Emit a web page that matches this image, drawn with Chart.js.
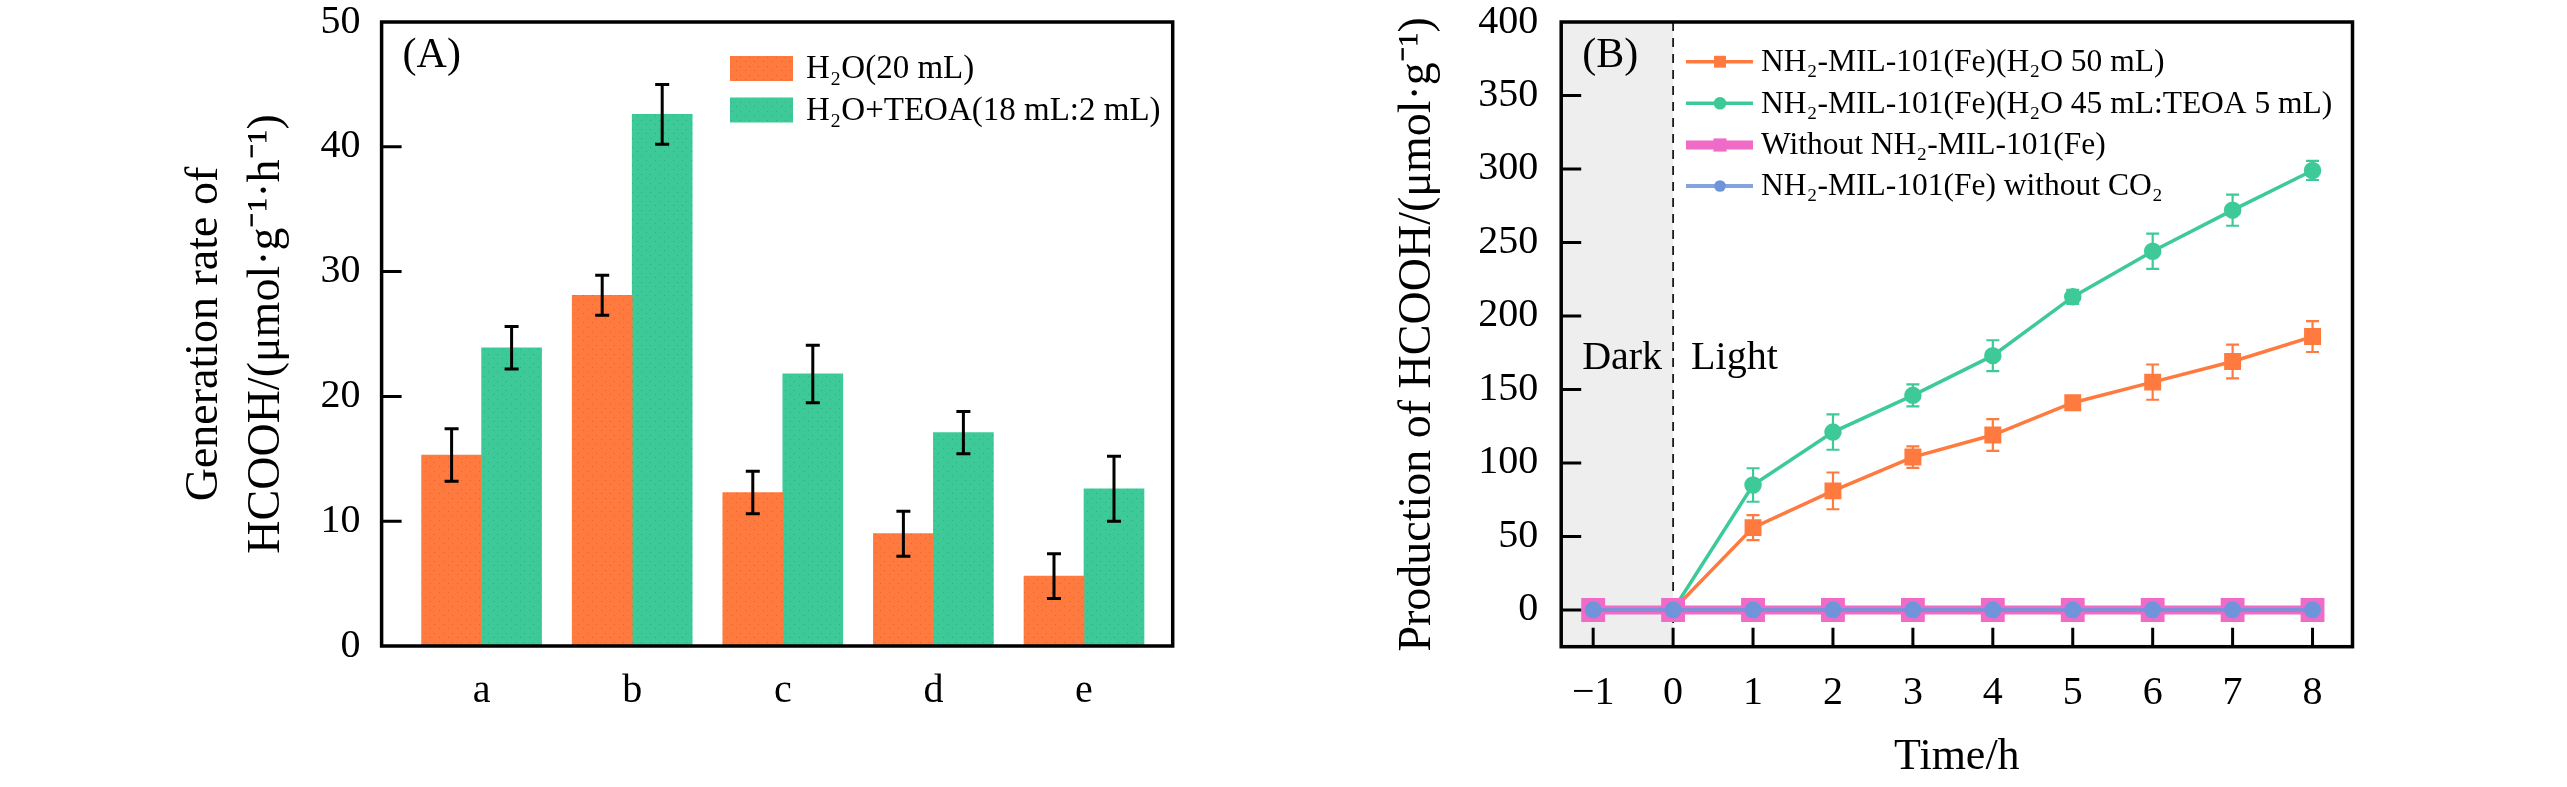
<!DOCTYPE html>
<html>
<head>
<meta charset="utf-8">
<script src="https://cdn.jsdelivr.net/npm/chart.js@4.4.1/dist/chart.umd.min.js"></script>
<style>
  html, body { margin: 0; padding: 0; background: #fff; }
  #wrap { position: relative; width: 2567px; height: 787px; overflow: hidden; }
  .panel { position: absolute; top: 0; height: 787px; }
  #pa { left: 0; width: 1283px; }
  #pb { left: 1283px; width: 1284px; }
</style>
</head>
<body>
<div id="wrap">
  <div class="panel" id="pa"><canvas id="chartA"></canvas></div>
  <div class="panel" id="pb"><canvas id="chartB"></canvas></div>
</div>
<script>
const FONT = '"Liberation Serif", "Times New Roman", serif';

// (A) generation rate per sample
const samples = ['a', 'b', 'c', 'd', 'e'];
const rateH2O = [15.3, 28.1, 12.3, 9.0, 5.6];
const errH2O = [2.1, 1.6, 1.7, 1.8, 1.8];
const rateTEOA = [23.9, 42.6, 21.8, 17.1, 12.6];
const errTEOA = [1.7, 2.4, 2.3, 1.7, 2.6];

// (B) production vs time
const hours = [-1, 0, 1, 2, 3, 4, 5, 6, 7, 8];
const prodH2O = [0, 0, 56, 81, 104, 119, 141, 155, 169, 186];
const sdH2O = [0, 0, 8.5, 12.5, 7.3, 10.8, 4, 12, 11.5, 10.5];
const prodTEOA = [0, 0, 85, 121, 146, 173, 213, 244, 272, 299];
const sdTEOA = [0, 0, 11.4, 12, 7.5, 10.5, 4.8, 12, 10.6, 6.5];
const prodNoCat = [0, 0, 0, 0, 0, 0, 0, 0, 0, 0];
const prodNoCO2 = [0, 0, 0, 0, 0, 0, 0, 0, 0, 0];

const ORANGE = '#FF7A3E';
const GREEN = '#3ECA98';
const PINK = '#F06AC8';
const BLUE = '#6F94DA';

function dotted(base, dot) {
  const c = document.createElement('canvas');
  c.width = 9; c.height = 9;
  const g = c.getContext('2d');
  g.fillStyle = base; g.fillRect(0, 0, 9, 9);
  g.fillStyle = dot;
  g.fillRect(2, 3, 1, 1); g.fillRect(7, 7, 1, 1);
  return g.createPattern(c, 'repeat');
}

// frame box + inward ticks
const frame = {
  id: 'frame',
  afterDraw(chart, args, o) {
    const { ctx, chartArea: a, scales } = chart;
    ctx.save();
    ctx.strokeStyle = '#000';
    ctx.lineWidth = 3;
    ctx.beginPath();
    if (o.yTicks) scales.y.ticks.forEach(t => {
      const p = scales.y.getPixelForValue(t.value);
      if (p > a.top + 3 && p < a.bottom - 3) { ctx.moveTo(a.left, p); ctx.lineTo(a.left + 20, p); }
    });
    if (o.xTicks) scales.x.ticks.forEach(t => {
      const p = scales.x.getPixelForValue(t.value);
      if (p > a.left + 3 && p < a.right - 3) { ctx.moveTo(p, a.bottom); ctx.lineTo(p, a.bottom - 19); }
    });
    ctx.stroke();
    ctx.lineWidth = 3.5;
    ctx.strokeRect(a.left, a.top, a.right - a.left, a.bottom - a.top);
    ctx.restore();
  }
};

// error bars from dataset.errors
const errorBars = {
  id: 'errorBars',
  afterDatasetsDraw(chart, args, o) {
    const { ctx } = chart;
    const y = chart.scales.y;
    chart.data.datasets.forEach((ds, di) => {
      if (!ds.errors) return;
      const meta = chart.getDatasetMeta(di);
      ctx.save();
      ctx.strokeStyle = o.color || ds.borderColor;
      ctx.lineWidth = o.width;
      meta.data.forEach((el, i) => {
        const e = ds.errors[i];
        if (!e) return;
        const v = ds.data[i].y;
        const top = y.getPixelForValue(v + e), bot = y.getPixelForValue(v - e);
        const c = o.cap / 2;
        ctx.beginPath();
        ctx.moveTo(el.x, top); ctx.lineTo(el.x, bot);
        ctx.moveTo(el.x - c, top); ctx.lineTo(el.x + c, top);
        ctx.moveTo(el.x - c, bot); ctx.lineTo(el.x + c, bot);
        ctx.stroke();
      });
      ctx.restore();
    });
  }
};

// custom legend at fixed spot inside the frame
const boxLegend = {
  id: 'boxLegend',
  afterDraw(chart, args, o) {
    const { ctx } = chart;
    ctx.save();
    ctx.font = o.size + 'px ' + FONT;
    ctx.textBaseline = 'middle';
    chart.data.datasets.forEach((ds, i) => {
      const cy = o.rows[i];
      if (o.kind === 'box') {
        ctx.fillStyle = ds.backgroundColor;
        ctx.fillRect(o.x, cy - 12.5, 63, 25);
      } else {
        ctx.strokeStyle = ds.borderColor;
        ctx.lineWidth = ds.borderWidth;
        ctx.beginPath(); ctx.moveTo(o.x, cy); ctx.lineTo(o.x + 67, cy); ctx.stroke();
        ctx.fillStyle = ds.pointBackgroundColor;
        const mx = o.x + 34;
        if (ds.pointStyle === 'rect') {
          const s = ds.pointRadius * 1.25;
          ctx.fillRect(mx - s / 2, cy - s / 2, s, s);
        } else {
          ctx.beginPath(); ctx.arc(mx, cy, ds.pointRadius * 0.9, 0, Math.PI * 2); ctx.fill();
        }
      }
      ctx.fillStyle = '#000';
      ctx.fillText(ds.label, o.textX, cy + 1);
    });
    ctx.restore();
  }
};

const panelTag = {
  id: 'panelTag',
  afterDraw(chart, args, o) {
    const { ctx, chartArea: a } = chart;
    ctx.save();
    ctx.font = '42px ' + FONT;
    ctx.fillStyle = '#000';
    ctx.textBaseline = 'middle';
    ctx.fillText(o.text, a.left + 21, a.top + 34);
    ctx.restore();
  }
};

// dark period shading and light/dark labels
const darkZone = {
  id: 'darkZone',
  beforeDatasetsDraw(chart) {
    const { ctx, chartArea: a, scales: { x, y } } = chart;
    const x0 = x.getPixelForValue(0);
    ctx.save();
    ctx.fillStyle = '#EEEEEE';
    ctx.fillRect(a.left, a.top, x0 - a.left, a.bottom - a.top);
    ctx.strokeStyle = '#000';
    ctx.lineWidth = 1.6;
    ctx.setLineDash([9, 7]);
    ctx.beginPath(); ctx.moveTo(x0, a.top); ctx.lineTo(x0, a.bottom); ctx.stroke();
    ctx.setLineDash([]);
    ctx.font = '40px ' + FONT;
    ctx.fillStyle = '#000';
    ctx.textBaseline = 'middle';
    const ty = y.getPixelForValue(171);
    ctx.textAlign = 'right';
    ctx.fillText('Dark', x0 - 11, ty);
    ctx.textAlign = 'left';
    ctx.fillText('Light', x0 + 18, ty);
    ctx.restore();
  }
};

const tickFont = { family: FONT, size: 40, lineHeight: 1 };

// keep the scale from pushing the plot area down for its end labels
function fixY(width) {
  return s => { s.width = width; s.paddingTop = 0; s.paddingBottom = 0; };
}

new Chart(document.getElementById('chartA'), {
  type: 'bar',
  data: {
    datasets: [
      {
        label: 'H\u2082O(20 mL)',
        data: rateH2O.map((v, i) => ({ x: i + 1, y: v })),
        errors: errH2O,
        backgroundColor: dotted(ORANGE, '#E8612A')
      },
      {
        label: 'H\u2082O+TEOA(18 mL:2 mL)',
        data: rateTEOA.map((v, i) => ({ x: i + 1, y: v })),
        errors: errTEOA,
        backgroundColor: dotted(GREEN, '#2EAE80')
      }
    ]
  },
  options: {
    responsive: true,
    maintainAspectRatio: false,
    animation: false,
    barThickness: 60,
    layout: { padding: { left: 0, top: 22, right: 110.3, bottom: 0 } },
    scales: {
      x: {
        type: 'linear',
        min: 0.336, max: 5.589,
        offset: false,
        grid: { display: false, drawTicks: false, offset: false },
        border: { display: false },
        ticks: {
          stepSize: 1, includeBounds: false, padding: 25,
          font: tickFont, color: '#000',
          callback: v => samples[v - 1]
        },
        afterFit: s => { s.height = 141; }
      },
      y: {
        min: 0, max: 50,
        grid: { display: false, drawTicks: false },
        border: { display: false },
        ticks: { stepSize: 10, padding: 21, font: tickFont, color: '#000' },
        title: {
          display: true,
          text: ['Generation rate of', 'HCOOH/(\u03bcmol\u00b7g\u207b\u00b9\u00b7h\u207b\u00b9)'],
          font: { family: FONT, size: 46, lineHeight: 62 / 46 },
          color: '#000',
          padding: { top: 174, bottom: 0 }
        },
        afterFit: fixY(381.6)
      }
    },
    plugins: {
      legend: { display: false },
      tooltip: { enabled: false },
      frame: { yTicks: true, xTicks: false },
      errorBars: { color: '#000', width: 3, cap: 14 },
      boxLegend: { kind: 'box', x: 730, textX: 806, rows: [68.5, 110], size: 33 },
      panelTag: { text: '(A)' }
    }
  },
  plugins: [errorBars, frame, boxLegend, panelTag]
});

new Chart(document.getElementById('chartB'), {
  type: 'line',
  data: {
    datasets: [
      {
        label: 'NH\u2082-MIL-101(Fe)(H\u2082O 50 mL)',
        data: hours.map((h, i) => ({ x: h, y: prodH2O[i] })),
        errors: sdH2O,
        borderColor: ORANGE, backgroundColor: ORANGE,
        pointBackgroundColor: ORANGE, pointBorderColor: ORANGE,
        borderWidth: 3.5, pointStyle: 'rect', pointRadius: 9.5,
        order: 3
      },
      {
        label: 'NH\u2082-MIL-101(Fe)(H\u2082O 45 mL:TEOA 5 mL)',
        data: hours.map((h, i) => ({ x: h, y: prodTEOA[i] })),
        errors: sdTEOA,
        borderColor: GREEN, backgroundColor: GREEN,
        pointBackgroundColor: GREEN, pointBorderColor: GREEN,
        borderWidth: 3.5, pointStyle: 'circle', pointRadius: 7,
        order: 2
      },
      {
        label: 'Without NH\u2082-MIL-101(Fe)',
        data: hours.map((h, i) => ({ x: h, y: prodNoCat[i] })),
        borderColor: PINK, backgroundColor: PINK,
        pointBackgroundColor: PINK, pointBorderColor: PINK,
        borderWidth: 9, pointStyle: 'rect', pointRadius: 10.5,
        order: 1
      },
      {
        label: 'NH\u2082-MIL-101(Fe) without CO\u2082',
        data: hours.map((h, i) => ({ x: h, y: prodNoCO2[i] })),
        borderColor: 'rgba(111,148,218,0.85)', backgroundColor: BLUE,
        pointBackgroundColor: BLUE, pointBorderColor: BLUE,
        borderWidth: 4, pointStyle: 'circle', pointRadius: 6.5,
        order: 0
      }
    ]
  },
  options: {
    responsive: true,
    maintainAspectRatio: false,
    animation: false,
    layout: { padding: { left: 0, top: 22, right: 214.5, bottom: 0 } },
    scales: {
      x: {
        type: 'linear',
        min: -1.4, max: 8.5,
        grid: { display: false, drawTicks: false },
        border: { display: false },
        ticks: {
          stepSize: 1, includeBounds: false, padding: 27,
          font: tickFont, color: '#000',
          callback: v => String(v).replace('-', '\u2212')
        },
        title: {
          display: true, text: 'Time/h', color: '#000',
          font: { family: FONT, size: 44, lineHeight: 1.2 },
          padding: { top: 0, bottom: 3 }
        },
        afterFit: s => { s.height = 140.3; }
      },
      y: {
        min: -25, max: 400,
        grid: { display: false, drawTicks: false },
        border: { display: false },
        ticks: { stepSize: 50, includeBounds: false, padding: 23, font: tickFont, color: '#000' },
        title: {
          display: true,
          text: 'Production of HCOOH/(\u03bcmol\u00b7g\u207b\u00b9)',
          font: { family: FONT, size: 46, lineHeight: 1.2 },
          color: '#000',
          padding: { top: 107, bottom: 0 }
        },
        afterFit: fixY(278.2)
      }
    },
    plugins: {
      legend: { display: false },
      tooltip: { enabled: false },
      frame: { yTicks: true, xTicks: true },
      errorBars: { width: 2.2, cap: 13 },
      boxLegend: { kind: 'line', x: 403, textX: 478, rows: [61.7, 103.3, 145, 186], size: 31.5 },
      panelTag: { text: '(B)' }
    }
  },
  plugins: [darkZone, errorBars, frame, boxLegend, panelTag]
});
</script>
</body>
</html>
